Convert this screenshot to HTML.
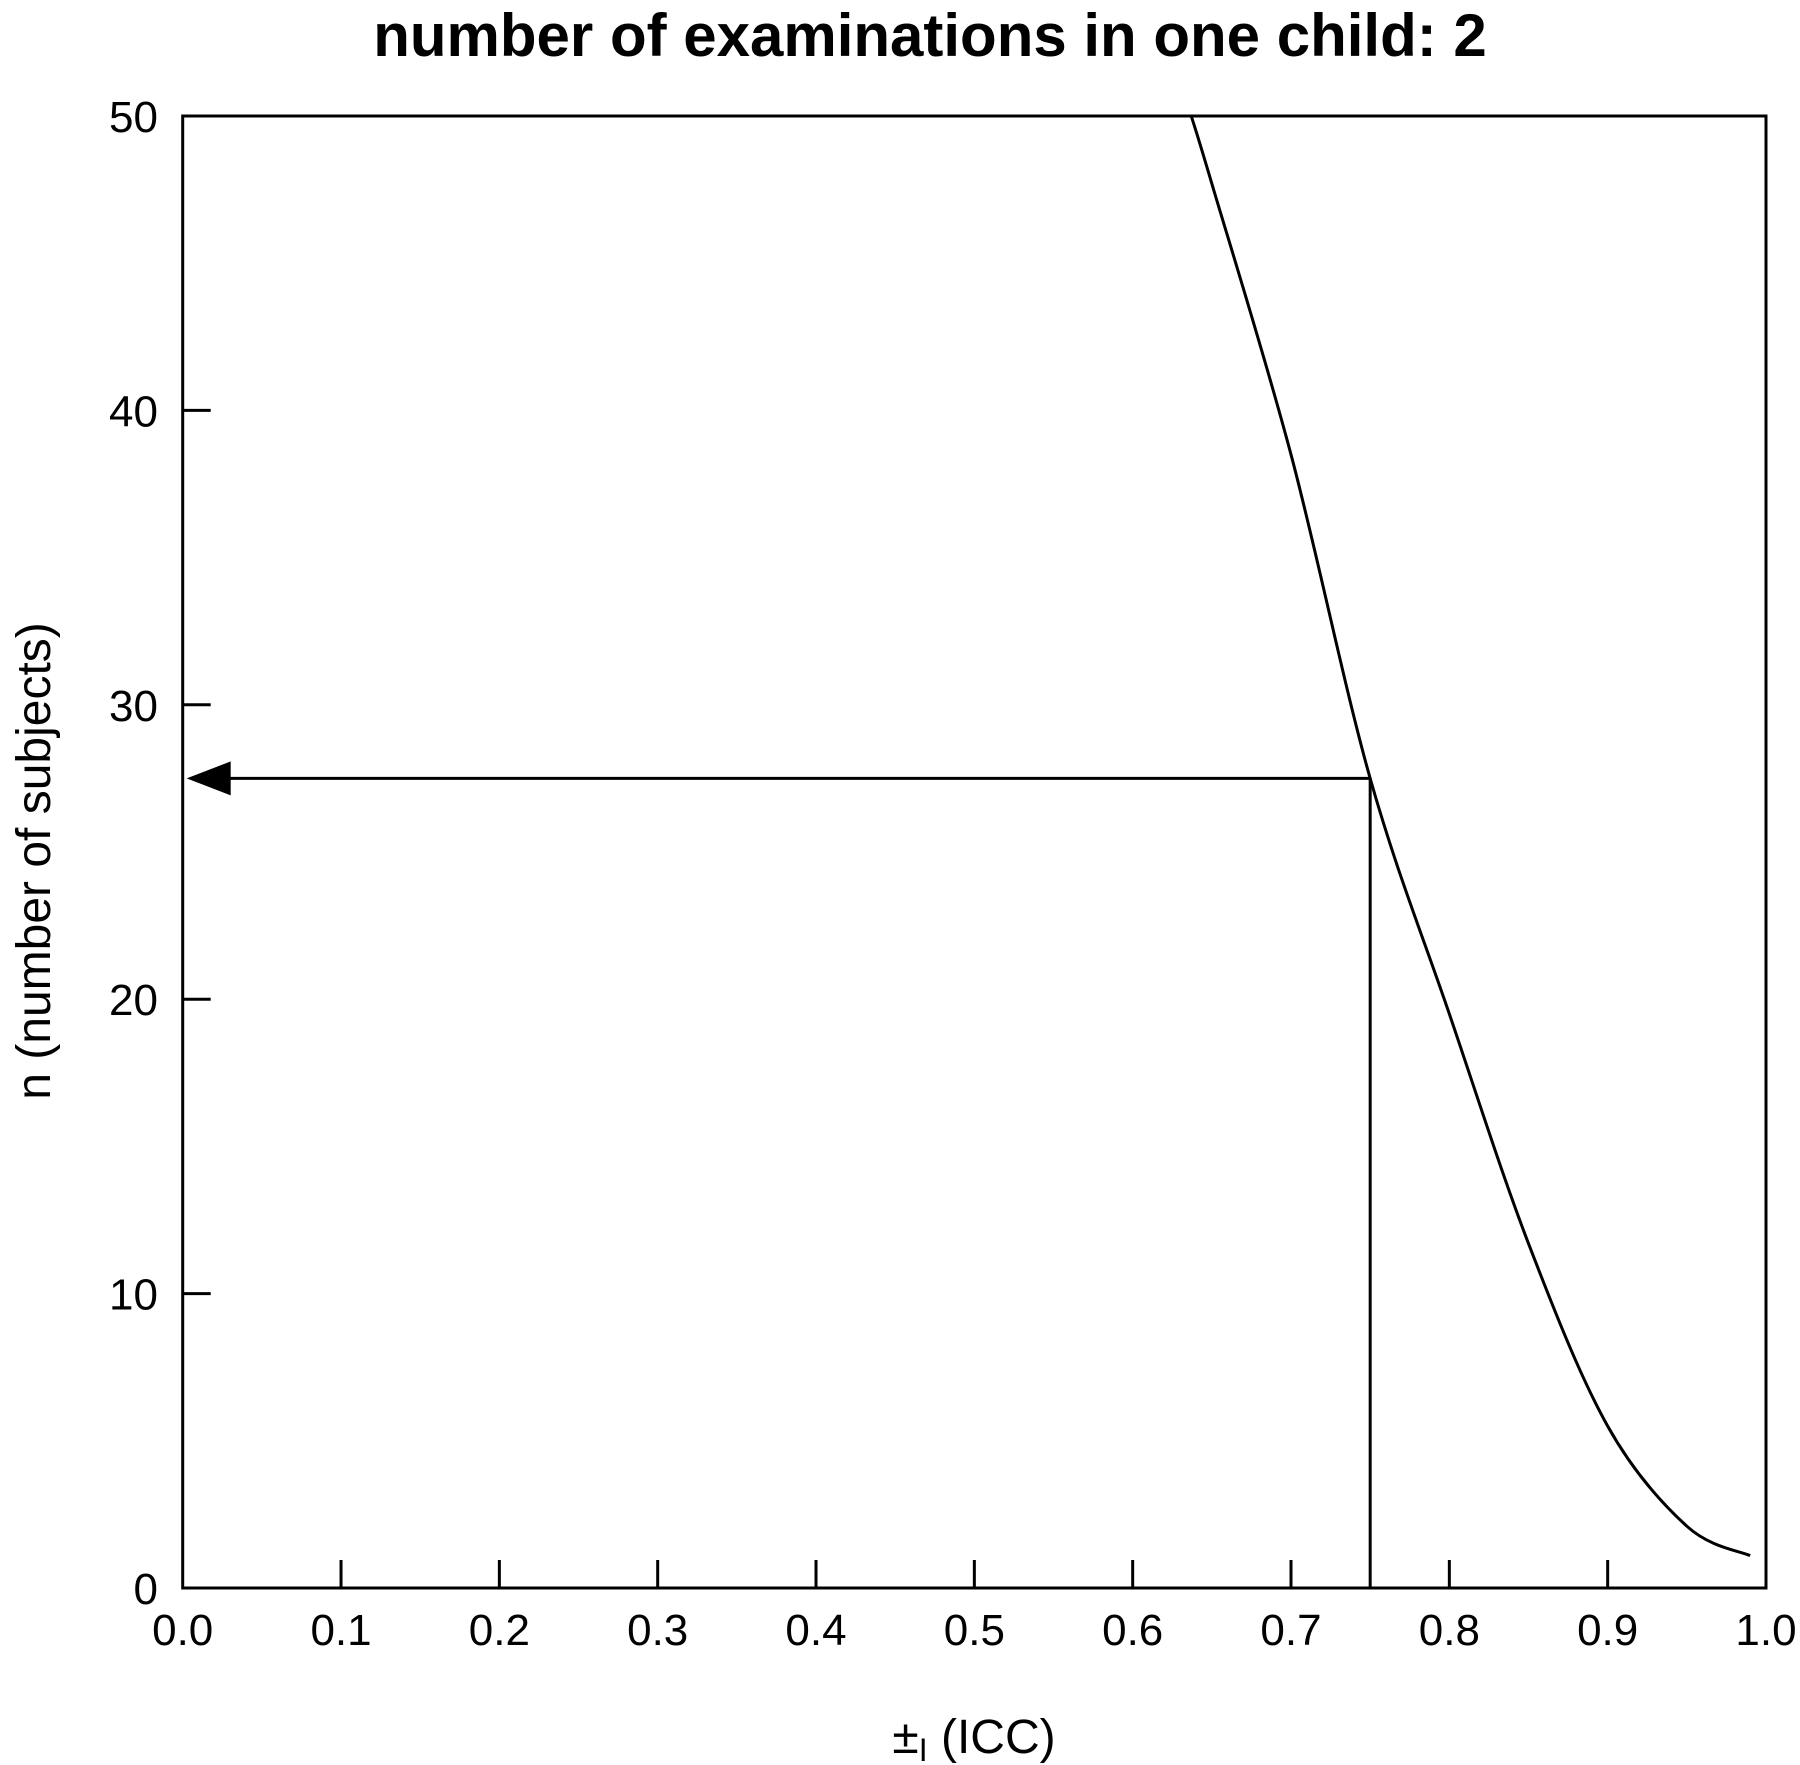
<!DOCTYPE html>
<html><head><meta charset="utf-8"><style>
html,body{margin:0;padding:0;background:#fff;}
svg{display:block;font-family:"Liberation Sans",Arial,sans-serif;}
</style></head><body>
<svg id="chart" width="1800" height="1765" viewBox="0 0 1800 1765">
<text x="930" y="56" text-anchor="middle" font-size="60" font-weight="bold">number of examinations in one child: 2</text>
<rect x="182.7" y="116" width="1583.3" height="1472" fill="none" stroke="#000" stroke-width="3"/>
<g id="xticks"></g>
<g id="yticks"></g>
<g id="marks"></g>
<text x="974" y="1753" text-anchor="middle" font-size="48">±<tspan font-size="32" dy="8">I</tspan><tspan dy="-8"> (ICC)</tspan></text>
<text transform="translate(50,861) rotate(-90)" text-anchor="middle" font-size="48">n (number of subjects)</text>
</svg>
<script>
const xTicks = [0.0,0.1,0.2,0.3,0.4,0.5,0.6,0.7,0.8,0.9,1.0];
const xTickLabels = ["0.0","0.1","0.2","0.3","0.4","0.5","0.6","0.7","0.8","0.9","1.0"];
const yTicks = [0,10,20,30,40,50];
const yTickLabels = ["0","10","20","30","40","50"];
const curveIcc = [0.637,0.65,0.70,0.75,0.80,0.85,0.90,0.95,0.99];
const curveN = [50,47.7,38.5,27.5,19.5,11.7,5.5,2.1,1.1];
const targetIcc = 0.75;
const targetN = 27.5;

const X0=182.7, X1=1766, Y0=1588, Y1=116;
function sx(v){return X0+(X1-X0)*v;}
function sy(v){return Y0-(Y0-Y1)*v/50;}
const NS="http://www.w3.org/2000/svg";
function mk(tag,attrs,parent){const e=document.createElementNS(NS,tag);for(const k in attrs)e.setAttribute(k,attrs[k]);parent.appendChild(e);return e;}

const gx=document.getElementById('xticks');
xTicks.forEach((v,i)=>{
  if(i>0&&i<xTicks.length-1){
    const t=mk('line',{x1:sx(v),x2:sx(v),y1:Y0,y2:Y0-28,stroke:'#000','stroke-width':3},gx);
    
    
  }
  const l=mk('text',{x:sx(v),y:1645,'text-anchor':'middle','font-size':44},gx);
  l.textContent=xTickLabels[i];
  
  
});
const gy=document.getElementById('yticks');
yTicks.forEach((v,i)=>{
  if(i>0&&i<yTicks.length-1){
    const t=mk('line',{x1:X0,x2:X0+28,y1:sy(v),y2:sy(v),stroke:'#000','stroke-width':3},gy);
    
    
  }
  const l=mk('text',{x:158,y:sy(v)+16,'text-anchor':'end','font-size':44},gy);
  l.textContent=yTickLabels[i];
  
  
});
const gm=document.getElementById('marks');
// smooth curve via Catmull-Rom
const pts=curveIcc.map((v,i)=>[sx(v),sy(curveN[i])]);
let d='M'+pts[0][0]+','+pts[0][1];
for(let i=0;i<pts.length-1;i++){
  const p0=pts[Math.max(0,i-1)],p1=pts[i],p2=pts[i+1],p3=pts[Math.min(pts.length-1,i+2)];
  const c1=[p1[0]+(p2[0]-p0[0])/6,p1[1]+(p2[1]-p0[1])/6];
  const c2=[p2[0]-(p3[0]-p1[0])/6,p2[1]-(p3[1]-p1[1])/6];
  d+=` C${c1[0]},${c1[1]} ${c2[0]},${c2[1]} ${p2[0]},${p2[1]}`;
}
const c=mk('path',{d:d,fill:'none',stroke:'#000','stroke-width':3},gm);


const v=mk('line',{x1:sx(targetIcc),x2:sx(targetIcc),y1:Y0,y2:sy(targetN),stroke:'#000','stroke-width':3},gm);


const h=mk('line',{x1:sx(targetIcc),x2:X0+40,y1:sy(targetN),y2:sy(targetN),stroke:'#000','stroke-width':3},gm);


const yy=sy(targetN);
const a=mk('polygon',{points:`${X0+4},${yy} ${X0+48},${yy-17} ${X0+48},${yy+17}`,fill:'#000'},gm);


</script>
</body></html>
